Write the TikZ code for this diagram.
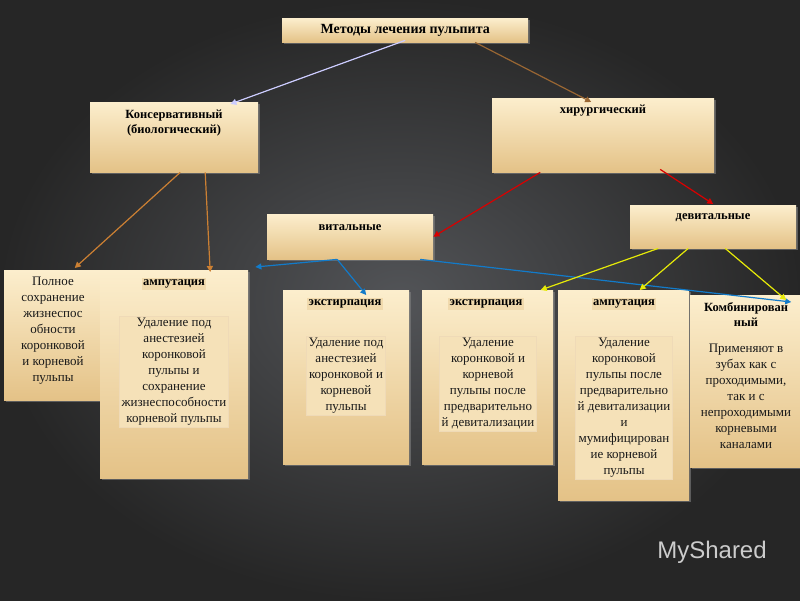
\documentclass[tikz,border=0pt]{standalone}
\usepackage{fontspec}
\setmainfont{Liberation Serif}
\newfontfamily\wmfont{Liberation Sans}
\usetikzlibrary{arrows.meta,shadows}
\begin{document}
\begin{tikzpicture}[x=1pt,y=-1pt,
 bx/.style={draw=none,top color=beige1,bottom color=beige2,drop shadow={opacity=0.6,shadow xshift=2pt,shadow yshift=-2pt}},
 lab/.style={inner sep=1.5pt,fill=beige2!45!beige1,font=\bfseries\fontsize{12.5}{15}\selectfont},
 txt/.style={align=center,font=\fontsize{13}{16}\selectfont,text=black!90},
 inb/.style={txt,anchor=north,fill=beige1!70!beige2,draw=beige2!60,inner sep=2pt},
 bt/.style={font=\bfseries\fontsize{12.5}{15}\selectfont,align=center},
 ar/.style={-{Triangle[width=6pt,length=6pt]},line width=1.2pt}]
\definecolor{beige1}{RGB}{252,238,205}
\definecolor{beige2}{RGB}{228,194,135}
\definecolor{bg}{RGB}{52,54,58}
\useasboundingbox (0,0) rectangle (800,600);
\shade[inner color=bg!85!white, outer color=black!85] (0,0) rectangle (800,600);
% boxes
\node[bx,minimum width=246,minimum height=24,anchor=north west] (t) at (282,18) {};
\node[bt,font=\bfseries\fontsize{14}{16}\selectfont] at (t) {Методы лечения пульпита};
\node[bx,minimum width=168,minimum height=70,anchor=north west] (k) at (90,102) {};
\node[bt,anchor=north] at (174,106) {Консервативный\\(биологический)};
\node[bx,minimum width=222,minimum height=74,anchor=north west] (h) at (492,98) {};
\node[bt] at (603,111) {хирургический};
\node[bx,minimum width=166,minimum height=45,anchor=north west] (v) at (267,214) {};
\node[bt] at (350,228) {витальные};
\node[bx,minimum width=166,minimum height=43,anchor=north west] (d) at (630,205) {};
\node[bt] at (713,218) {девитальные};
\node[bx,minimum width=97,minimum height=130,anchor=north west] (p) at (4,270) {};
\node[txt,anchor=north] at (53,273) {Полное\\сохранение\\жизнеспос\\обности\\коронковой\\и  корневой\\пульпы};
\node[bx,minimum width=148,minimum height=208,anchor=north west] (a1) at (100,270) {};
\node[lab] at (174,284) {ампутация};
\node[inb] at (174,316) {Удаление под\\анестезией\\коронковой\\пульпы и\\сохранение\\жизнеспособности\\корневой пульпы};
\node[bx,minimum width=126,minimum height=174,anchor=north west] (e1) at (283,290) {};
\node[lab] at (345,304) {экстирпация};
\node[inb] at (346,336) {Удаление под\\анестезией\\коронковой и\\корневой\\пульпы};
\node[bx,minimum width=131,minimum height=174,anchor=north west] (e2) at (422,290) {};
\node[lab] at (486,304) {экстирпация};
\node[inb] at (488,336) {Удаление\\коронковой и\\корневой\\пульпы после\\предварительно\\й девитализации};
\node[bx,minimum width=131,minimum height=210,anchor=north west] (a2) at (558,290) {};
\node[lab] at (624,304) {ампутация};
\node[inb] at (624,336) {Удаление\\коронковой\\пульпы после\\предварительно\\й девитализации\\и\\мумифицирован\\ие корневой\\пульпы};
\node[bx,minimum width=112,minimum height=172,anchor=north west] (c) at (690,295) {};
\node[bt,anchor=north] at (746,299) {Комбинирован\\ный};
\node[txt,anchor=north] at (746,340) {Применяют в\\зубах как с\\проходимыми,\\так и с\\непроходимыми\\корневыми\\каналами};
% arrows
\draw[ar,white!80!blue] ([yshift=2]t.south) -- ([xshift=-28,yshift=-2]k.north east);
\draw[ar,brown!80!black] ([xshift=70]t.south) -- ([xshift=-12,yshift=-4]h.north);
\draw[ar,brown!80!orange] ([xshift=6]k.south) -- ([xshift=22,yshift=2]p.north);
\draw[ar,brown!80!orange] ([xshift=31]k.south) -- ([xshift=36,yshift=-2]a1.north);
\draw[ar,red!85!black] ([xshift=-63]h.south) -- (v.east);
\draw[ar,red!85!black] ([xshift=57,yshift=3]h.south) -- ([yshift=1]d.north);
\draw[ar,cyan!60!blue] ([xshift=-13]v.south) -- ([xshift=20,yshift=-5]e1.north);
\draw[ar,cyan!60!blue] ([xshift=-13]v.south) -- ([xshift=7,yshift=3]a1.north east);
\draw[ar,cyan!60!blue] ([xshift=70]v.south) -- ([xshift=45,yshift=-7]c.north);
\draw[ar,yellow!90!green] ([xshift=-55]d.south) -- ([xshift=53]e2.north);
\draw[ar,yellow!90!green] ([xshift=-25]d.south) -- ([xshift=16]a2.north);
\draw[ar,yellow!90!green] ([xshift=12]d.south) -- ([xshift=40,yshift=-5]c.north);
\node[text=white!80!black,font=\wmfont\fontsize{24}{26}\selectfont] (wm) at (712,552) {MyShared};
\end{tikzpicture}
\end{document}
